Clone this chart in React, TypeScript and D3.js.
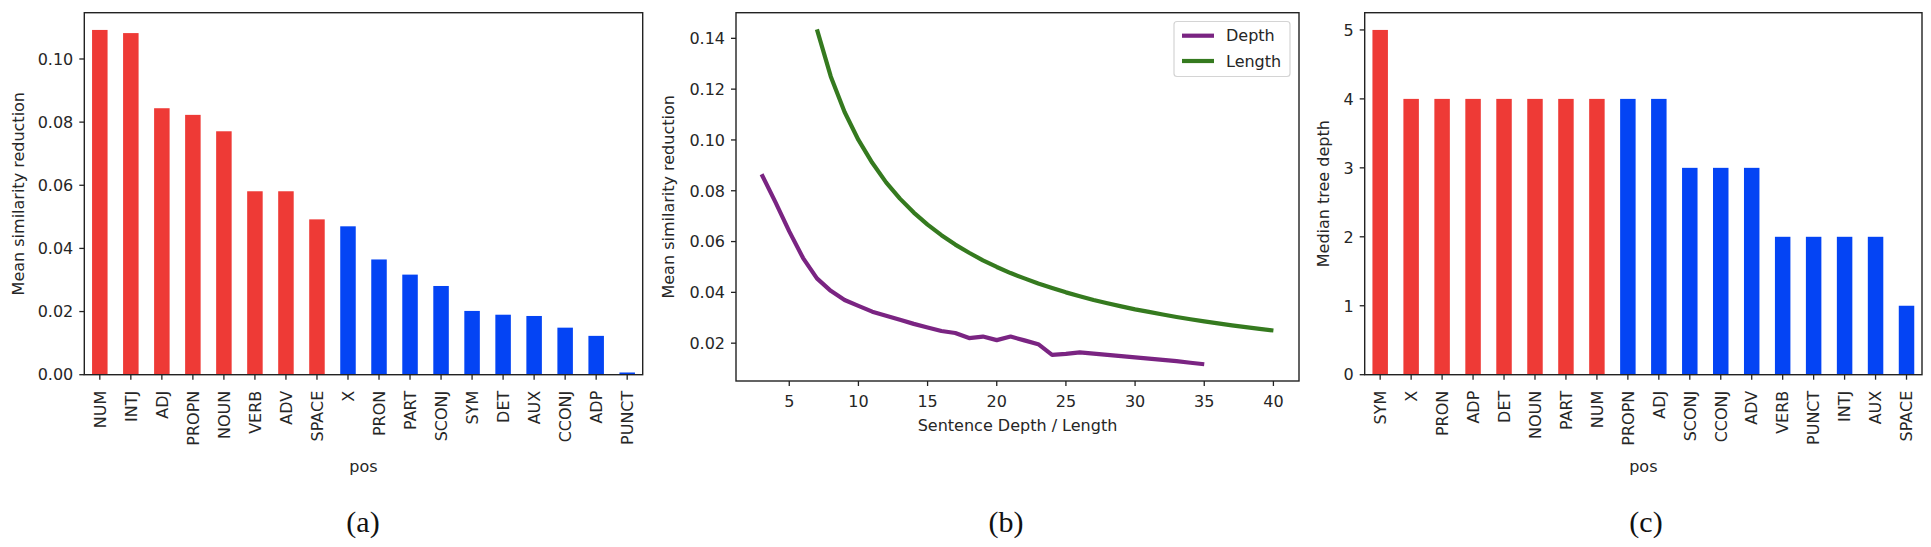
import React, { useEffect, useRef } from "react";
import * as d3 from "d3";

// (a) mean similarity reduction per part of speech
const posA = ["NUM", "INTJ", "ADJ", "PROPN", "NOUN", "VERB", "ADV", "SPACE", "X", "PRON", "PART", "SCONJ", "SYM", "DET", "AUX", "CCONJ", "ADP", "PUNCT"];
const reductionA = [0.1092, 0.1082, 0.0844, 0.0823, 0.0771, 0.0581, 0.0581, 0.0492, 0.047, 0.0365, 0.0317, 0.0281, 0.0202, 0.019, 0.0186, 0.0149, 0.0123, 0.0007];
const yTicksA = [0, 0.02, 0.04, 0.06, 0.08, 0.1];

// (b) reduction vs sentence depth / length
const depthX = [3, 4, 5, 6, 7, 8, 9, 10, 11, 12, 13, 14, 15, 16, 17, 18, 19, 20, 21, 22, 23, 24, 25, 26, 27, 28, 29, 30, 31, 32, 33, 34, 35];
const depthY = [0.0865, 0.0755, 0.064, 0.0535, 0.0455, 0.0406, 0.037, 0.0347, 0.0324, 0.0308, 0.0292, 0.0276, 0.0262, 0.0248, 0.024, 0.022, 0.0226, 0.0212, 0.0226, 0.0211, 0.0196, 0.0154, 0.0158, 0.0164, 0.0159, 0.0154, 0.0149, 0.0144, 0.0139, 0.0134, 0.0129, 0.0123, 0.0117];
const lengthX = [7, 8, 9, 10, 11, 12, 13, 14, 15, 16, 17, 18, 19, 20, 21, 22, 23, 24, 25, 26, 27, 28, 29, 30, 31, 32, 33, 34, 35, 36, 37, 38, 39, 40];
const lengthY = [0.1435, 0.125, 0.111, 0.1, 0.091, 0.0833, 0.0769, 0.0714, 0.0667, 0.0625, 0.0588, 0.0556, 0.0526, 0.05, 0.0476, 0.0455, 0.0435, 0.0417, 0.04, 0.0385, 0.037, 0.0357, 0.0345, 0.0333, 0.0323, 0.0313, 0.0303, 0.0294, 0.0286, 0.0278, 0.027, 0.0263, 0.0256, 0.025];
const xTicksB = [5, 10, 15, 20, 25, 30, 35, 40];
const yTicksB = [0.02, 0.04, 0.06, 0.08, 0.1, 0.12, 0.14];

// (c) median tree depth per part of speech
const posC = ["SYM", "X", "PRON", "ADP", "DET", "NOUN", "PART", "NUM", "PROPN", "ADJ", "SCONJ", "CCONJ", "ADV", "VERB", "PUNCT", "INTJ", "AUX", "SPACE"];
const medianDepthC = [5, 4, 4, 4, 4, 4, 4, 4, 4, 4, 3, 3, 3, 2, 2, 2, 2, 1];
const yTicksC = [0, 1, 2, 3, 4, 5];

const topCount = 8; // first 8 bars are highlighted red

const RED = "#ee3a36";
const BLUE = "#0444f4";
const PURPLE = "#7a2482";
const GREEN = "#357a1f";
const INK = "#262626";
const FONT = "'DejaVu Sans', sans-serif";
const FS = 16;

type Box = { left: number; right: number; top: number; bottom: number };

const App = () => {
  const ref = useRef<SVGSVGElement>(null);

  useEffect(() => {
    const svg = d3.select(ref.current);
    svg.selectAll("*").remove();
    svg.append("rect").attr("width", 1931).attr("height", 547).attr("fill", "#fff");

    const frame = (b: Box) =>
      svg
        .append("rect")
        .attr("x", b.left)
        .attr("y", b.top)
        .attr("width", b.right - b.left)
        .attr("height", b.bottom - b.top)
        .attr("fill", "none")
        .attr("stroke", "#222")
        .attr("stroke-width", 1.4);

    const yTicks = (b: Box, y: d3.ScaleLinear<number, number>, ticks: number[], fmt: (v: number) => string) => {
      const g = svg.append("g");
      ticks.forEach((t) => {
        g.append("line")
          .attr("x1", b.left - 5)
          .attr("x2", b.left)
          .attr("y1", y(t))
          .attr("y2", y(t))
          .attr("stroke", "#222")
          .attr("stroke-width", 1.3);
        g.append("text")
          .attr("x", b.left - 11)
          .attr("y", y(t))
          .attr("dy", "0.36em")
          .attr("text-anchor", "end")
          .attr("font-family", FONT)
          .attr("font-size", FS)
          .attr("fill", INK)
          .text(fmt(t));
      });
    };

    const yLabel = (cx: number, cy: number, label: string) =>
      svg
        .append("text")
        .attr("transform", `translate(${cx},${cy}) rotate(-90)`)
        .attr("dy", "0.35em")
        .attr("text-anchor", "middle")
        .attr("font-family", FONT)
        .attr("font-size", FS)
        .attr("fill", INK)
        .text(label);

    const xLabel = (cx: number, cy: number, label: string) =>
      svg
        .append("text")
        .attr("x", cx)
        .attr("y", cy)
        .attr("text-anchor", "middle")
        .attr("font-family", FONT)
        .attr("font-size", FS)
        .attr("fill", INK)
        .text(label);

    const caption = (cx: number, label: string) =>
      svg
        .append("text")
        .attr("x", cx)
        .attr("y", 532)
        .attr("text-anchor", "middle")
        .attr("font-family", "'Liberation Serif', serif")
        .attr("font-size", 30)
        .attr("fill", "#111")
        .text(label);

    // bar panel, used by (a) and (c)
    const barPanel = (b: Box, cats: string[], vals: number[], ymax: number) => {
      const x = d3
        .scaleBand()
        .domain(cats)
        .range([b.left, b.right])
        .paddingInner(0.5)
        .paddingOuter(0.25);
      const y = d3.scaleLinear().domain([0, ymax]).range([b.bottom, b.top]);

      svg
        .append("g")
        .selectAll("rect")
        .data(cats)
        .join("rect")
        .attr("x", (d) => x(d)!)
        .attr("y", (d, i) => y(vals[i]))
        .attr("width", x.bandwidth())
        .attr("height", (d, i) => b.bottom - y(vals[i]))
        .attr("fill", (d, i) => (i < topCount ? RED : BLUE));

      const g = svg.append("g");
      cats.forEach((c) => {
        const cx = x(c)! + x.bandwidth() / 2;
        g.append("line")
          .attr("x1", cx)
          .attr("x2", cx)
          .attr("y1", b.bottom)
          .attr("y2", b.bottom + 5)
          .attr("stroke", "#222")
          .attr("stroke-width", 1.3);
        g.append("text")
          .attr("transform", `translate(${cx},${b.bottom + 16}) rotate(-90)`)
          .attr("dy", "0.36em")
          .attr("text-anchor", "end")
          .attr("font-family", FONT)
          .attr("font-size", FS)
          .attr("fill", INK)
          .text(c);
      });
      return y;
    };

    // (a)
    const boxA: Box = { left: 84.3, right: 642.7, top: 12.7, bottom: 374.7 };
    const yA = barPanel(boxA, posA, reductionA, d3.max(reductionA)! * 1.05);
    yTicks(boxA, yA, yTicksA, d3.format(".2f"));
    frame(boxA);
    yLabel(18, (boxA.top + boxA.bottom) / 2, "Mean similarity reduction");
    xLabel((boxA.left + boxA.right) / 2, 472, "pos");
    caption(363, "(a)");

    // (b)
    const boxB: Box = { left: 736, right: 1299, top: 12.7, bottom: 381 };
    const [x0, x1] = d3.extent([...depthX, ...lengthX]) as [number, number];
    const [v0, v1] = d3.extent([...depthY, ...lengthY]) as [number, number];
    const xB = d3
      .scaleLinear()
      .domain([x0 - (x1 - x0) * 0.05, x1 + (x1 - x0) * 0.05])
      .range([boxB.left, boxB.right]);
    const yB = d3
      .scaleLinear()
      .domain([v0 - (v1 - v0) * 0.05, v1 + (v1 - v0) * 0.05])
      .range([boxB.bottom, boxB.top]);

    const series = [
      { xs: depthX, ys: depthY, color: PURPLE },
      { xs: lengthX, ys: lengthY, color: GREEN },
    ];
    series.forEach((s) => {
      const pts = s.xs.map((v, i) => [xB(v), yB(s.ys[i])] as [number, number]);
      svg
        .append("path")
        .attr("d", d3.line()(pts))
        .attr("fill", "none")
        .attr("stroke", s.color)
        .attr("stroke-width", 4.2)
        .attr("stroke-linejoin", "round");
    });

    yTicks(boxB, yB, yTicksB, d3.format(".2f"));
    const gx = svg.append("g");
    xTicksB.forEach((t) => {
      gx.append("line")
        .attr("x1", xB(t))
        .attr("x2", xB(t))
        .attr("y1", boxB.bottom)
        .attr("y2", boxB.bottom + 5)
        .attr("stroke", "#222")
        .attr("stroke-width", 1.3);
      gx.append("text")
        .attr("x", xB(t))
        .attr("y", 401)
        .attr("dy", "0.36em")
        .attr("text-anchor", "middle")
        .attr("font-family", FONT)
        .attr("font-size", FS)
        .attr("fill", INK)
        .text(t);
    });
    frame(boxB);
    yLabel(668, (boxB.top + boxB.bottom) / 2, "Mean similarity reduction");
    xLabel((boxB.left + boxB.right) / 2, 431, "Sentence Depth / Length");
    caption(1006, "(b)");

    // legend
    const lg = svg.append("g");
    lg.append("rect")
      .attr("x", 1174)
      .attr("y", 21.5)
      .attr("width", 116)
      .attr("height", 55)
      .attr("rx", 3)
      .attr("fill", "#fff")
      .attr("stroke", "#d4d4d4")
      .attr("stroke-width", 1.2);
    [
      { label: "Depth", color: PURPLE, y: 35.7 },
      { label: "Length", color: GREEN, y: 61 },
    ].forEach((d) => {
      lg.append("line")
        .attr("x1", 1182)
        .attr("x2", 1214)
        .attr("y1", d.y)
        .attr("y2", d.y)
        .attr("stroke", d.color)
        .attr("stroke-width", 4.2);
      lg.append("text")
        .attr("x", 1226)
        .attr("y", d.y)
        .attr("dy", "0.36em")
        .attr("font-family", FONT)
        .attr("font-size", FS)
        .attr("fill", INK)
        .text(d.label);
    });

    // (c)
    const boxC: Box = { left: 1364.7, right: 1922, top: 12.7, bottom: 374.7 };
    const yC = barPanel(boxC, posC, medianDepthC, d3.max(medianDepthC)! * 1.05);
    yTicks(boxC, yC, yTicksC, d3.format("d"));
    frame(boxC);
    yLabel(1323, (boxC.top + boxC.bottom) / 2, "Median tree depth");
    xLabel((boxC.left + boxC.right) / 2, 472, "pos");
    caption(1646, "(c)");
  }, []);

  return <svg ref={ref} width={1931} height={547} style={{ position: "absolute", left: 0, top: 0 }} />;
};

export default App;
